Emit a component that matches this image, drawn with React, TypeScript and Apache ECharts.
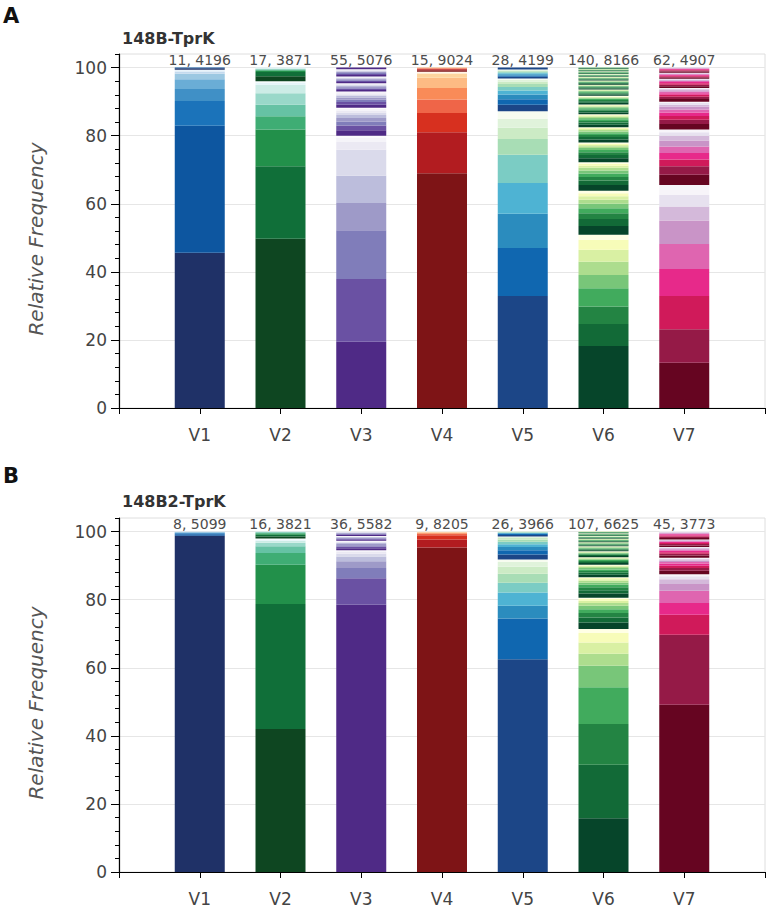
import React, { useEffect, useRef } from 'react';
import * as echarts from 'echarts';

const categories = ['V1', 'V2', 'V3', 'V4', 'V5', 'V6', 'V7'];
const yTickValues = [0, 20, 40, 60, 80, 100];

const titleA = '148B-TprK';
const titleB = '148B2-TprK';
const annotationsA = ['11, 4196', '17, 3871', '55, 5076', '15, 9024', '28, 4199', '140, 8166', '62, 4907'];
const annotationsB = ['8, 5099', '16, 3821', '36, 5582', '9, 8205', '26, 3966', '107, 6625', '45, 3773'];

// colour cycles, dark -> light (one per region)
const paletteBlues = ['#1f3167', '#0d56a0', '#1b73ba', '#4090c6', '#6aadd6', '#9cc8e2', '#c4daee', '#deebf7', '#f4f9fe'];
const paletteBuGn = ['#0e4621', '#106f39', '#22904a', '#3fad74', '#66c2a4', '#99d8c9', '#ccece6', '#e5f5f9', '#f7fcfd'];
const palettePurples = ['#4f2a86', '#6a51a3', '#807dba', '#9e9ac8', '#bcbddc', '#dadaeb', '#ebe9f3', '#f5f4f9', '#fcfbfd'];
const paletteOrRd = ['#7e1416', '#b21c20', '#d7301f', '#ef6548', '#f98b58', '#fdbb84', '#fdd49e', '#fee8c8', '#fff7ec'];
const paletteGnBu = ['#1c4687', '#1067b0', '#2b8cbe', '#4eb3d3', '#7bccc4', '#a8ddb5', '#ccebc5', '#e0f3db', '#f7fcf0'];
const paletteYlGn = ['#06452a', '#126a37', '#238443', '#41ab5d', '#78c679', '#addd8e', '#d9f0a3', '#f7fcb9', '#ffffe5'];
const palettePuRd = ['#660521', '#951a47', '#d01a5a', '#e7298a', '#df65b0', '#c994c7', '#d4b9da', '#e7e1ef', '#f7f4f9'];
const palettes = [paletteBlues, paletteBuGn, palettePurples, paletteOrRd, paletteGnBu, paletteYlGn, palettePuRd];

// ---- Panel A: 148B-TprK, relative frequency of each variant (bottom -> top) ----
const a148B_V1 = [45.6, 37.3, 7.3, 3.5, 2.9, 1.6, 0.6, 0.4, 0.2, 0.4, 0.2];
const a148B_V2 = [49.7, 21.3, 10.8, 3.9, 3.4, 3.4, 2.5, 0.6, 0.4,
  1.5, 1.2, 0.4, 0.25, 0.2, 0.15, 0.15, 0.15];
const a148B_V3 = [19.5, 18.4, 14.3, 8.0, 8.0, 7.7, 2.4, 1.2, 0.5,
  1.6, 1.4, 1.2, 1.0, 0.9, 0.7, 0.6, 0.5, 0.3,
  0.9, 0.8, 0.7, 0.6, 0.5, 0.4, 0.4, 0.3, 0.2,
  0.45, 0.4, 0.35, 0.3, 0.25, 0.2, 0.2, 0.15, 0.1,
  0.4, 0.35, 0.3, 0.25, 0.2, 0.15, 0.15, 0.1, 0.1,
  0.4, 0.35, 0.3, 0.25, 0.25, 0.2, 0.15, 0.1, 0.1,
  0.5];
const a148B_V4 = [69.0, 12.0, 5.7, 3.9, 3.4, 3.0, 1.2, 0.4, 0.2,
  0.4, 0.3, 0.2, 0.1, 0.1, 0.1];
const a148B_V5 = [32.9, 14.1, 10.1, 9.0, 8.3, 4.6, 3.3, 2.7, 2.2,
  1.9, 1.6, 1.4, 1.2, 1.0, 0.9, 0.7, 0.5, 0.4,
  0.5, 0.4, 0.35, 0.3, 0.3, 0.25, 0.2, 0.2, 0.15,
  0.55];
const a148B_V6 = [18.2, 6.5, 5.1, 5.4, 3.9, 3.9, 3.5, 2.9, 1.5,
  2.6, 2.0, 1.7, 1.5, 1.3, 1.2, 1.0, 0.9, 0.7,
  1.7, 1.3, 1.1, 1.0, 0.9, 0.8, 0.6, 0.5, 0.5,
  1.2, 0.9, 0.8, 0.7, 0.6, 0.5, 0.4, 0.4, 0.3,
  0.9, 0.7, 0.6, 0.55, 0.5, 0.4, 0.35, 0.3, 0.2,
  0.75, 0.6, 0.5, 0.45, 0.4, 0.35, 0.3, 0.25, 0.2,
  0.55, 0.45, 0.4, 0.35, 0.3, 0.25, 0.25, 0.2, 0.15,
  0.5, 0.4, 0.35, 0.3, 0.25, 0.2, 0.2, 0.15, 0.15,
  0.4, 0.3, 0.25, 0.25, 0.2, 0.15, 0.15, 0.1, 0.1,
  0.3, 0.25, 0.2, 0.15, 0.15, 0.1, 0.1, 0.1, 0.05,
  0.25, 0.2, 0.17, 0.15, 0.13, 0.1, 0.08, 0.07, 0.05,
  0.23, 0.18, 0.16, 0.14, 0.12, 0.09, 0.08, 0.06, 0.04,
  0.17, 0.13, 0.12, 0.1, 0.09, 0.07, 0.05, 0.04, 0.03,
  0.17, 0.13, 0.12, 0.1, 0.09, 0.07, 0.05, 0.04, 0.03,
  0.15, 0.12, 0.1, 0.09, 0.08, 0.06, 0.05, 0.03, 0.02,
  0.12, 0.1, 0.08, 0.06, 0.04];
const a148B_V7 = [13.3, 9.8, 9.8, 7.9, 7.4, 6.9, 4.1, 3.4, 2.9,
  3.0, 2.5, 2.0, 1.9, 1.9, 1.8, 1.4, 1.0, 0.8,
  1.6, 1.3, 1.1, 1.0, 0.9, 0.8, 0.6, 0.5, 0.4,
  0.8, 0.65, 0.55, 0.5, 0.45, 0.4, 0.3, 0.2, 0.15,
  0.55, 0.45, 0.4, 0.35, 0.3, 0.25, 0.2, 0.12, 0.08,
  0.35, 0.3, 0.25, 0.22, 0.2, 0.17, 0.14, 0.1, 0.07,
  0.35, 0.28, 0.24, 0.2, 0.16, 0.12, 0.09, 0.06];

// ---- Panel B: 148B2-TprK ----
const b148B2_V1 = [98.8, 0.4, 0.3, 0.2, 0.1, 0.1, 0.05, 0.05];
const b148B2_V2 = [42.0, 36.7, 11.6, 3.4, 2.0, 1.0, 0.6, 0.4, 0.3,
  0.6, 0.5, 0.3, 0.2, 0.2, 0.1, 0.1];
const b148B2_V3 = [78.5, 7.8, 3.0, 2.0, 1.4, 0.8, 0.5, 0.3, 0.2,
  0.6, 0.5, 0.4, 0.35, 0.3, 0.25, 0.2, 0.1, 0.1,
  0.3, 0.25, 0.2, 0.2, 0.15, 0.1, 0.1, 0.05, 0.05,
  0.3, 0.25, 0.2, 0.15, 0.15, 0.1, 0.08, 0.04, 0.03];
const b148B2_V4 = [95.3, 2.4, 1.2, 0.5, 0.25, 0.15, 0.1, 0.05, 0.05];
const b148B2_V5 = [62.5, 12.0, 3.7, 3.9, 2.9, 2.6, 2.1, 1.4, 0.7,
  1.5, 1.2, 1.0, 0.8, 0.7, 0.6, 0.5, 0.3, 0.2,
  0.4, 0.3, 0.2, 0.15, 0.12, 0.1, 0.08, 0.05];
const b148B2_V6 = [15.8, 15.7, 12.0, 10.8, 6.3, 3.5, 3.3, 2.8, 1.2,
  1.9, 1.5, 1.3, 1.1, 1.0, 0.8, 0.7, 0.5, 0.4,
  1.2, 1.0, 0.85, 0.75, 0.6, 0.55, 0.45, 0.35, 0.25,
  0.75, 0.6, 0.5, 0.45, 0.4, 0.35, 0.3, 0.2, 0.15,
  0.45, 0.35, 0.3, 0.27, 0.24, 0.2, 0.17, 0.13, 0.09,
  0.35, 0.28, 0.24, 0.2, 0.18, 0.15, 0.12, 0.1, 0.08,
  0.3, 0.25, 0.21, 0.18, 0.16, 0.13, 0.11, 0.09, 0.07,
  0.25, 0.2, 0.17, 0.15, 0.13, 0.1, 0.08, 0.07, 0.05,
  0.2, 0.17, 0.14, 0.12, 0.11, 0.09, 0.07, 0.06, 0.04,
  0.17, 0.13, 0.12, 0.1, 0.09, 0.07, 0.05, 0.04, 0.03,
  0.17, 0.13, 0.12, 0.1, 0.09, 0.07, 0.05, 0.04, 0.03,
  0.12, 0.1, 0.08, 0.06, 0.05, 0.04, 0.03, 0.02];
const b148B2_V7 = [49.1, 20.6, 5.9, 3.4, 3.6, 2.0, 1.4, 0.9, 0.6,
  1.0, 0.8, 0.7, 0.6, 0.5, 0.4, 0.35, 0.25, 0.2,
  0.65, 0.55, 0.45, 0.4, 0.35, 0.3, 0.22, 0.16, 0.12,
  0.45, 0.38, 0.32, 0.28, 0.24, 0.2, 0.15, 0.1, 0.08,
  0.45, 0.4, 0.34, 0.3, 0.25, 0.2, 0.16, 0.12, 0.08];

const panelA = [a148B_V1, a148B_V2, a148B_V3, a148B_V4, a148B_V5, a148B_V6, a148B_V7];
const panelB = [b148B2_V1, b148B2_V2, b148B2_V3, b148B2_V4, b148B2_V5, b148B2_V6, b148B2_V7];

const FONT = '"DejaVu Sans", sans-serif';

function buildSeries(segs: number[][], stack: string, xIdx: number, yIdx: number) {
  const n = Math.max(...segs.map((s) => s.length));
  const out: any[] = [];
  for (let k = 0; k < n; k++) {
    out.push({
      type: 'bar',
      stack,
      xAxisIndex: xIdx,
      yAxisIndex: yIdx,
      barWidth: 50,
      silent: true,
      data: [
        '-',
        ...segs.map((s, i) =>
          k < s.length ? { value: s[k], itemStyle: { color: palettes[i][k % palettes[i].length] } } : '-'
        ),
        '-',
      ],
    });
  }
  return out;
}

function xAxes(gridIndex: number, annotations: string[]) {
  return [
    {
      type: 'category',
      gridIndex,
      position: 'bottom',
      data: ['', ...categories, ''],
      boundaryGap: false,
      axisLine: { show: true, onZero: false, lineStyle: { color: '#000', width: 1.2 } },
      axisTick: { show: true, length: 6, lineStyle: { color: '#000', width: 1 } },
      axisLabel: { interval: 0, margin: 18, fontSize: 17, fontFamily: FONT, color: '#444' },
      splitLine: { show: false },
    },
    {
      type: 'category',
      gridIndex,
      position: 'top',
      data: ['', ...annotations, ''],
      boundaryGap: false,
      axisLine: { show: false },
      axisTick: { show: false },
      axisLabel: {
        inside: true,
        interval: 0,
        margin: 6,
        verticalAlign: 'middle',
        fontSize: 14,
        fontFamily: FONT,
        color: '#4d4d4d',
      },
      splitLine: { show: false },
    },
  ];
}

function yAxes(gridIndex: number) {
  return [
    {
      type: 'value',
      gridIndex,
      position: 'left',
      min: 0,
      max: 104,
      interval: 4,
      axisLine: { show: true, lineStyle: { color: '#000', width: 1.2 } },
      axisTick: { show: true, length: 4, lineStyle: { color: '#000', width: 1 } },
      axisLabel: { show: false },
      splitLine: { show: false },
    },
    {
      type: 'value',
      gridIndex,
      position: 'left',
      min: 0,
      max: 104,
      interval: 20,
      axisLine: { show: false },
      axisTick: { show: true, length: 8, customValues: yTickValues, lineStyle: { color: '#000', width: 1 } },
      axisLabel: {
        customValues: yTickValues,
        margin: 12,
        fontSize: 17,
        fontFamily: FONT,
        color: '#444',
        formatter: (v: number) => (v <= 100 ? String(v) : ''),
      },
      splitLine: { show: true, lineStyle: { color: '#e6e6e6', width: 1 } },
    },
  ];
}

export default function App() {
  const ref = useRef<HTMLDivElement>(null);

  useEffect(() => {
    if (!ref.current) return;
    const chart = echarts.init(ref.current, undefined, { renderer: 'svg' });
    const option: any = {
      animation: false,
      backgroundColor: '#ffffff',
      textStyle: { fontFamily: FONT },
      grid: [
        { left: 119, right: 3, top: 54, height: 354, show: true, borderColor: '#dedede', borderWidth: 1, outerBoundsMode: 'none', containLabel: false },
        { left: 119, right: 3, top: 518, height: 354, show: true, borderColor: '#dedede', borderWidth: 1, outerBoundsMode: 'none', containLabel: false },
      ],
      xAxis: [...xAxes(0, annotationsA), ...xAxes(1, annotationsB)],
      yAxis: [...yAxes(0), ...yAxes(1)],
      series: [...buildSeries(panelA, 'A', 0, 0), ...buildSeries(panelB, 'B', 2, 2)],
      graphic: [
        { type: 'text', x: 3, y: 16, style: { text: 'A', font: `bold 21px ${FONT}`, fill: '#111', verticalAlign: 'middle' } },
        { type: 'text', x: 122, y: 38, style: { text: titleA, font: `bold 16px ${FONT}`, fill: '#333', verticalAlign: 'middle' } },
        { type: 'text', x: 3, y: 476, style: { text: 'B', font: `bold 21px ${FONT}`, fill: '#111', verticalAlign: 'middle' } },
        { type: 'text', x: 122, y: 501, style: { text: titleB, font: `bold 16px ${FONT}`, fill: '#333', verticalAlign: 'middle' } },
        {
          type: 'text', x: 36, y: 239, rotation: Math.PI / 2,
          style: { text: 'Relative Frequency', font: `italic 20px ${FONT}`, fill: '#555', align: 'center', verticalAlign: 'middle' },
        },
        {
          type: 'text', x: 36, y: 703, rotation: Math.PI / 2,
          style: { text: 'Relative Frequency', font: `italic 20px ${FONT}`, fill: '#555', align: 'center', verticalAlign: 'middle' },
        },
      ],
    };
    chart.setOption(option);
    return () => chart.dispose();
  }, []);

  return (
    <div
      ref={ref}
      style={{ position: 'absolute', left: 0, top: 0, width: 768, height: 908, background: '#fff' }}
    />
  );
}
